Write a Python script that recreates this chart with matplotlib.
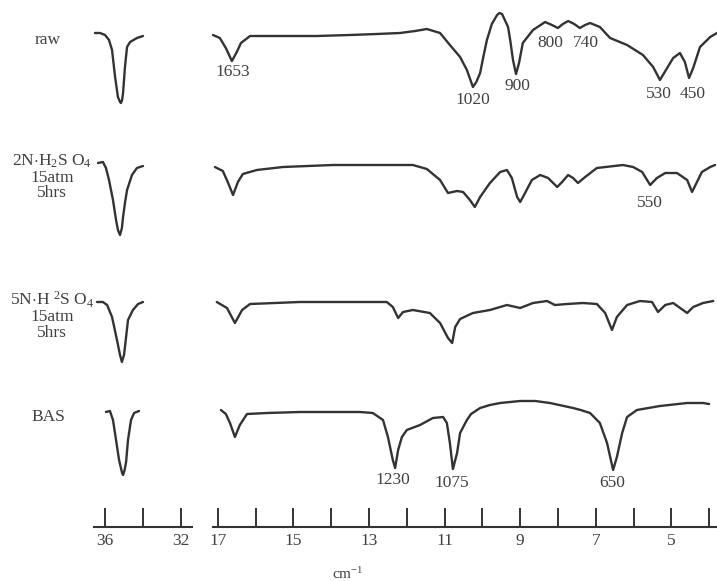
import matplotlib.pyplot as plt

plt.rcParams["mathtext.fontset"] = "custom"
plt.rcParams["mathtext.rm"] = "Liberation Serif"
plt.rcParams["mathtext.it"] = "Liberation Serif:italic"
plt.rcParams["font.family"] = ["Liberation Serif", "DejaVu Serif"]

INK = "#333333"
TXT = "#404040"

# ---- data: wavenumber (cm-1) and transmittance (arbitrary units) ----
# O-H stretching region (3600-3200 cm-1)
oh_raw_wn = [3653, 3626, 3600, 3579, 3563, 3547, 3532, 3521, 3516, 3510, 3505, 3495, 3484, 3468, 3432, 3400]
oh_raw_t = [80, 80, 78, 73, 63, 36, 16, 11, 10, 13, 20, 46, 66, 71, 75, 77]

oh_2n_wn = [3637, 3611, 3595, 3579, 3558, 3542, 3532, 3521, 3511, 3505, 3495, 3484, 3458, 3432, 3400]
oh_2n_t = [87, 88, 82, 70, 50, 30, 20, 15, 22, 33, 47, 60, 75, 82, 84]

oh_5n_wn = [3642, 3611, 3589, 3563, 3537, 3521, 3511, 3500, 3495, 3479, 3453, 3426, 3400]
oh_5n_t = [83, 83, 80, 68, 45, 30, 23, 30, 38, 65, 75, 81, 83]

oh_bas_wn = [3595, 3574, 3558, 3542, 3526, 3510, 3505, 3498, 3489, 3479, 3463, 3447, 3421]
oh_bas_t = [73, 74, 65, 45, 25, 12, 10, 14, 23, 45, 65, 72, 74]

# fingerprint region (1700-400 cm-1)
fp_raw_wn = [1713, 1695, 1679, 1663, 1650, 1639, 1615, 1536, 1438, 1351, 1279, 1218, 1178,
             1147, 1112, 1086, 1059, 1041, 1025, 1016, 1006, 997, 988, 975, 961, 955, 948,
             932, 926, 919, 911, 903, 893, 866, 834, 816, 800, 787, 773, 757, 742, 728,
             715, 689, 662, 617, 575, 548, 530, 511, 495, 477, 464, 453, 442, 424, 397, 379]
fp_raw_t = [78, 75, 65, 52, 61, 70, 77, 77, 77, 78, 79, 80, 82,
            84, 80, 68, 56, 43, 26, 31, 40, 57, 73, 89, 98, 100, 99,
            86, 72, 53, 39, 50, 70, 83, 91, 88, 85, 89, 92, 89, 85, 88,
            90, 86, 75, 68, 58, 46, 33, 45, 55, 60, 51, 35, 45, 66, 76, 80]

fp_2n_wn = [1708, 1687, 1674, 1660, 1647, 1634, 1597, 1528, 1396, 1184, 1147, 1112, 1091,
            1067, 1051, 1033, 1020, 1006, 980, 953, 935, 922, 908, 900, 887, 869, 847,
            826, 802, 789, 773, 760, 747, 728, 697, 628, 601, 577, 556, 538, 516, 485,
            458, 445, 432, 419, 397, 384]
fp_2n_t = [83, 79, 68, 55, 68, 76, 80, 83, 85, 85, 81, 70, 57,
           59, 58, 50, 43, 53, 67, 78, 80, 72, 53, 48, 57, 70, 75,
           72, 63, 68, 75, 72, 67, 73, 82, 85, 83, 78, 65, 72, 77, 77,
           70, 58, 68, 78, 83, 85]

fp_5n_wn = [1703, 1676, 1655, 1636, 1615, 1483, 1253, 1237, 1223, 1210, 1184, 1139, 1112,
            1091, 1080, 1072, 1059, 1025, 980, 935, 900, 866, 829, 808, 776, 734, 697,
            675, 657, 644, 617, 583, 551, 535, 516, 495, 458, 442, 416, 389]
fp_5n_t = [83, 77, 62, 75, 81, 83, 83, 78, 67, 73, 75, 72, 62,
           47, 42, 58, 66, 72, 75, 80, 77, 82, 84, 80, 81, 82, 81,
           72, 55, 68, 80, 84, 83, 73, 80, 82, 72, 78, 82, 84]

fp_bas_wn = [1692, 1679, 1668, 1655, 1642, 1623, 1570, 1483, 1324, 1290, 1263, 1250, 1237,
             1231, 1223, 1213, 1200, 1165, 1131, 1104, 1094, 1086, 1078, 1067, 1059, 1041,
             1030, 1006, 980, 953, 900, 860, 821, 760, 740, 715, 689, 670, 654, 644, 630,
             617, 591, 530, 458, 416, 400]
fp_bas_t = [75, 71, 62, 48, 60, 71, 72, 73, 73, 72, 65, 48, 25,
            17, 35, 48, 55, 60, 67, 68, 62, 42, 16, 32, 52, 65,
            71, 77, 80, 82, 84, 84, 82, 77, 75, 72, 62, 42, 15, 28, 52,
            68, 75, 79, 82, 82, 81]

sample_names = ["raw", "2N$\\cdot$H$_2$S O$_4$\n15atm\n5hrs",
                "5N$\\cdot$H $^2$S O$_4$\n15atm\n5hrs", "BAS"]
band_labels = ["1653", "1020", "900", "800", "740", "530", "450",
               "550", "1230", "1075", "650"]

oh_ticks = [3600, 3400, 3200]
oh_ticklabels = ["36", "", "32"]
fp_ticks = list(range(1700, 399, -100))
fp_ticklabels = [str(t // 100) if (t // 100) % 2 == 1 else "" for t in fp_ticks]

# ---- layout (pixels of the 717x581 canvas) ----
W, H = 717, 581
AXIS_Y = 527
row_top = [13, 150, 285, 385]          # y of transmittance 100 for each trace
label_xy = [(48, 40), (52, 177), (52, 315), (48, 417)]
band_xy = [(233, 72), (473, 100), (517, 86), (550, 43), (586, 43), (659, 94), (693, 94),
           (650, 203), (393, 480), (452, 483), (612, 483)]

fig = plt.figure(figsize=(W / 100, H / 100), dpi=100)
fig.patch.set_facecolor("white")


def make_axes(x0, x1, wn0, wn1, ticks, ticklabels):
    ax = fig.add_axes([x0 / W, (H - AXIS_Y) / H, (x1 - x0) / W, AXIS_Y / H])
    ax.set_xlim(wn0, wn1)
    ax.set_ylim(AXIS_Y, 0)
    for side in ["left", "right", "top"]:
        ax.spines[side].set_visible(False)
    ax.spines["bottom"].set_linewidth(1.5)
    ax.spines["bottom"].set_color(INK)
    ax.set_yticks([])
    ax.set_xticks(ticks)
    ax.set_xticklabels(ticklabels)
    ax.tick_params(axis="x", direction="in", length=14, width=1.4, color=INK,
                   labelsize=12.5, labelcolor=TXT, pad=4)
    ax.patch.set_alpha(0)
    return ax


ax_oh = make_axes(94, 192, 3658, 3142, oh_ticks, oh_ticklabels)
ax_fp = make_axes(213, 717, 1713, 379, fp_ticks, fp_ticklabels)

oh_series = [(oh_raw_wn, oh_raw_t), (oh_2n_wn, oh_2n_t), (oh_5n_wn, oh_5n_t), (oh_bas_wn, oh_bas_t)]
fp_series = [(fp_raw_wn, fp_raw_t), (fp_2n_wn, fp_2n_t), (fp_5n_wn, fp_5n_t), (fp_bas_wn, fp_bas_t)]

for top, (wn, t) in zip(row_top, oh_series):
    ax_oh.plot(wn, [top + 100 - v for v in t], color=INK, lw=1.7,
               solid_joinstyle="round", solid_capstyle="round", clip_on=False)
for top, (wn, t) in zip(row_top, fp_series):
    ax_fp.plot(wn, [top + 100 - v for v in t], color=INK, lw=1.7,
               solid_joinstyle="round", solid_capstyle="round", clip_on=False)

for name, (x, y) in zip(sample_names, label_xy):
    fig.text(x / W, 1 - y / H, name, ha="center", va="center", fontsize=12.5,
             color=TXT, linespacing=0.95)

for lab, (x, y) in zip(band_labels, band_xy):
    fig.text(x / W, 1 - y / H, lab, ha="center", va="center", fontsize=12.5, color=TXT)

fig.text(348 / W, 1 - 574 / H, "cm$^{-1}$", ha="center", va="center", fontsize=11, color=TXT)

fig.savefig("out.png", dpi=100, facecolor="white")
